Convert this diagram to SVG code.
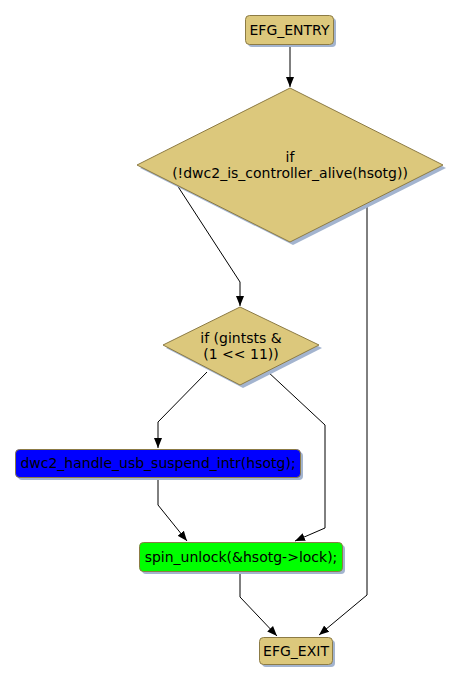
<svg xmlns="http://www.w3.org/2000/svg" width="462" height="685" viewBox="0 0 462 685">
<defs>
<style>
.n{stroke:#8c7b45;stroke-width:1}
.y{fill:#dcc87c}
.sh{fill:#a3b4cf;stroke:none}
.t{font-family:"DejaVu Sans",sans-serif;font-size:14px;fill:#000;text-anchor:middle}
.c{fill:none;stroke:#000;stroke-width:1}
</style>
<marker id="ah" viewBox="0 0 10 10" refX="10" refY="5" markerWidth="10" markerHeight="10" markerUnits="userSpaceOnUse" orient="auto">
<path d="M0,1 L10,5 L0,9 Z" fill="#000"/>
</marker>
</defs>
<rect width="462" height="685" fill="#fff"/>
<g id="connectors">
<path class="c" d="M290,44 L290,87" marker-end="url(#ah)"/>
<path class="c" d="M177,185 L240,282 L240,306" marker-end="url(#ah)"/>
<path class="c" d="M367,203 L367,595 L319,635" marker-end="url(#ah)"/>
<path class="c" d="M207,372 L158,422 L158,448" marker-end="url(#ah)"/>
<path class="c" d="M267,371 L325,425 L325,528 L295,541" marker-end="url(#ah)"/>
<path class="c" d="M158,477 L158,505 L187,541" marker-end="url(#ah)"/>
<path class="c" d="M240,571 L240,597 L277,636" marker-end="url(#ah)"/>
</g>
<g id="efg_entry">
<rect class="sh" x="248" y="18" width="88" height="29" rx="4"/>
<rect class="n y" x="245.5" y="15.5" width="88" height="29" rx="4"/>
<text class="t" x="289.5" y="35">EFG_ENTRY</text>
</g>
<g id="if_alive">
<polygon class="sh" points="293,91 446,168 293,245 140,168"/>
<polygon class="n y" points="290,88 443,165 290,242 137,165"/>
<text class="t" x="290" y="162">if</text>
<text class="t" x="290" y="178">(!dwc2_is_controller_alive(hsotg))</text>
</g>
<g id="if_gintsts">
<polygon class="sh" points="243,310 322,348 243,388 166,348"/>
<polygon class="n y" points="240,307 319,345 240,385 163,345"/>
<text class="t" x="241" y="343">if (gintsts &amp;</text>
<text class="t" x="241" y="359">(1 &lt;&lt; 11))</text>
</g>
<g id="suspend">
<rect class="sh" x="18" y="452" width="285" height="28" rx="4"/>
<rect class="n" x="15.5" y="449.5" width="285" height="28" rx="4" fill="#0000ff"/>
<text class="t" x="158" y="468">dwc2_handle_usb_suspend_intr(hsotg);</text>
</g>
<g id="spin_unlock">
<rect class="sh" x="142" y="545" width="203" height="29" rx="4"/>
<rect class="n" x="139.5" y="542.5" width="203" height="29" rx="4" fill="#00ff00"/>
<text class="t" x="241" y="562">spin_unlock(&amp;hsotg-&gt;lock);</text>
</g>
<g id="efg_exit">
<rect class="sh" x="262" y="640" width="73" height="27" rx="4"/>
<rect class="n y" x="259.5" y="637.5" width="73" height="27" rx="4"/>
<text class="t" x="296" y="656">EFG_EXIT</text>
</g>
</svg>
